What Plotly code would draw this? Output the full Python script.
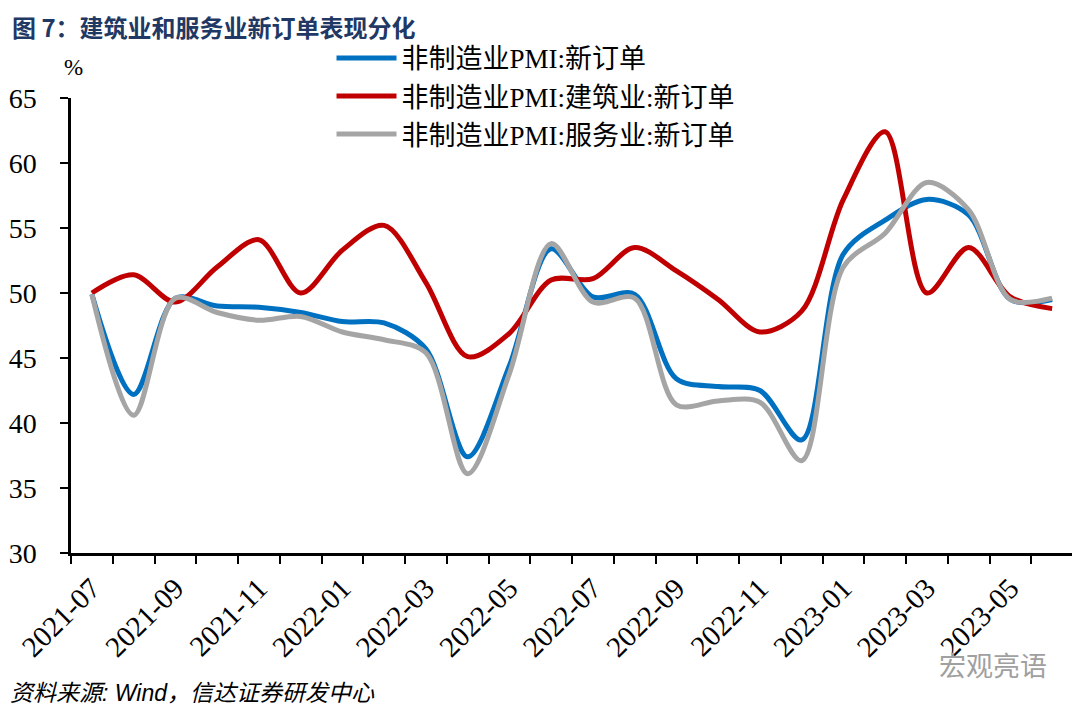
import plotly.graph_objects as go

months = ["2021-07","2021-08","2021-09","2021-10","2021-11","2021-12",
          "2022-01","2022-02","2022-03","2022-04","2022-05","2022-06",
          "2022-07","2022-08","2022-09","2022-10","2022-11","2022-12",
          "2023-01","2023-02","2023-03","2023-04","2023-05","2023-06"]

non_mfg_new_orders = [49.9, 42.2, 49.6, 49.0, 48.9, 48.5, 47.8, 47.7, 45.7, 37.4, 44.4, 53.4,
                      49.7, 49.9, 43.4, 42.8, 42.5, 38.7, 53.0, 55.6, 57.2, 56.0, 49.5, 49.5]
construction_new_orders = [50.0, 51.4, 49.3, 52.0, 54.1, 50.0, 53.3, 55.2, 50.8, 45.1, 46.9, 51.0,
                           51.1, 53.5, 51.7, 49.5, 47.0, 48.6, 57.2, 62.4, 50.0, 53.5, 49.7, 48.8]
services_new_orders = [49.9, 40.6, 49.6, 48.5, 47.9, 48.2, 47.0, 46.4, 45.4, 36.1, 43.8, 53.8,
                       49.3, 49.6, 41.4, 41.7, 41.6, 37.1, 52.0, 54.6, 58.5, 56.4, 49.5, 49.6]

series_names = ["非制造业PMI:新订单", "非制造业PMI:建筑业:新订单", "非制造业PMI:服务业:新订单"]
series_colors = ["#0070C0", "#C00000", "#A5A5A5"]
series_values = [non_mfg_new_orders, construction_new_orders, services_new_orders]

tick_labels = months[::2]

xs = list(range(len(months)))
fig = go.Figure()
for name, color, vals in zip(series_names, series_colors, series_values):
    fig.add_trace(go.Scatter(x=xs, y=vals, name=name, mode="lines",
                             line=dict(color=color, width=5, shape="spline", smoothing=0.9),
                             hoverinfo="skip"))

serif = "Liberation Serif, Times New Roman, serif"
cjk = "Liberation Serif, Noto Sans CJK SC, serif"

# page has an 8px body margin, so the figure is sized to fit exactly inside the window
fig.update_layout(
    width=1072, height=705,
    margin=dict(l=63, r=7, t=90, b=160, autoexpand=False),
    paper_bgcolor="white", plot_bgcolor="white",
    showlegend=True,
    legend=dict(x=0.260, y=1.141, xanchor="left", yanchor="top",
                font=dict(family=cjk, size=27, color="black"),
                bgcolor="rgba(0,0,0,0)", itemwidth=60, tracegroupgap=0),
    xaxis=dict(range=[-0.5, len(months) - 0.5], showgrid=False, zeroline=False,
               showline=True, linecolor="black", linewidth=2.5, automargin=False,
               tickmode="array", tickvals=xs[::2], ticktext=tick_labels,
               ticks="", tickangle=-45, ticklabelstandoff=4,
               tickfont=dict(family=serif, size=29, color="black"),
               minor=dict(tickmode="array",
                          tickvals=[i - 0.5 for i in range(len(months) + 1)],
                          ticks="outside", ticklen=8, tickwidth=2, tickcolor="black")),
    yaxis=dict(range=[30, 65], dtick=5, tick0=30, showgrid=False, zeroline=False,
               showline=True, linecolor="black", linewidth=2.5, automargin=False,
               ticks="outside", ticklen=8, tickwidth=2, tickcolor="black",
               ticklabelstandoff=18,
               tickfont=dict(family=serif, size=28, color="black")),
    annotations=[
        dict(text="图 7：建筑业和服务业新订单表现分化", xref="paper", yref="paper",
             x=-0.06, y=1.197, xanchor="left", yanchor="top", showarrow=False,
             borderpad=0,
             font=dict(family="Noto Sans CJK SC", size=24, color="#1F3864", weight="bold")),
        dict(text="%", xref="paper", yref="paper", x=0.002, y=1.066,
             xanchor="center", yanchor="middle", showarrow=False,
             font=dict(family=serif, size=23, color="black")),
        dict(text="<i>资料来源: Wind，信达证券研发中心</i>", xref="paper", yref="paper",
             x=-0.063, y=-0.308, xanchor="left", yanchor="middle", showarrow=False,
             font=dict(family="Liberation Sans, Noto Sans CJK SC", size=23, color="black")),
        dict(text="宏观亮语", xref="paper", yref="paper",
             x=0.976, y=-0.246, xanchor="right", yanchor="middle", showarrow=False,
             font=dict(family="Noto Sans CJK SC", size=27, color="#a0a0a0")),
    ],
)

fig.write_html("out.html")
